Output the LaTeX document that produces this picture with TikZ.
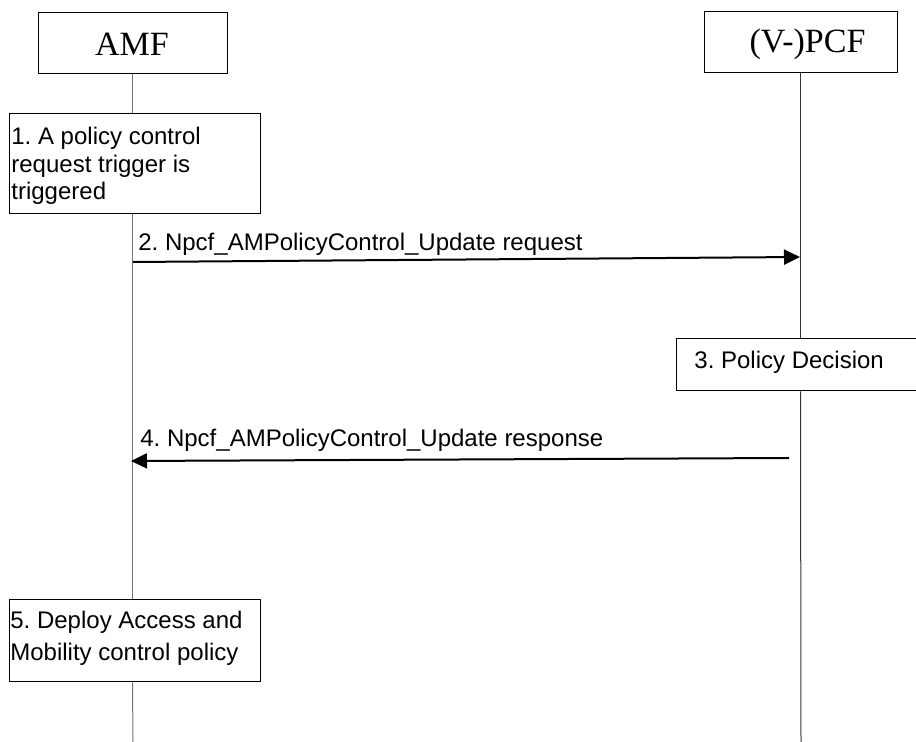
\documentclass[tikz,border=0pt]{standalone}
\usepackage{fontspec}
\setmainfont{Liberation Serif}
\setsansfont{Liberation Sans}
\usetikzlibrary{arrows.meta}
\frenchspacing

\tikzset{
   entity/.style={draw,line width=0.5pt,inner sep=0pt},
   entitytext/.style={inner sep=0pt,font=\fontsize{17}{20}\selectfont},
   stepbox/.style={draw,line width=0.5pt,inner sep=0pt},
   steptext/.style={inner sep=0pt,align=left,font=\sffamily\fontsize{12}{13.75}\selectfont},
   msgtext/.style={inner sep=0pt,font=\sffamily\fontsize{12}{14}\selectfont},
   lifeline/.style={line width=0.5pt,draw=black!55},
   msg/.style={line width=1pt,-{Triangle[length=8pt,width=7.5pt]}}
}

\begin{document}
\begin{tikzpicture}[x=0.5pt,y=-0.5pt]
   \useasboundingbox (0,0) rectangle (916,742);
   \clip (0,0) rectangle (916,742);

   \node[entity,minimum width=94.5pt,minimum height=30.5pt] (amf) at (132.5,43.5) {};
   \node[entitytext] (amftext) at (132,44) {AMF};
   \node[entity,minimum width=96.5pt,minimum height=30.5pt] (pcf) at (800.5,42.5) {};
   \node[entitytext] (pcftext) at (807.5,44) {(V-)PCF};

   \node[stepbox,minimum width=125.5pt,minimum height=50pt] (trigger) at (134.5,164) {};
   \node[steptext,anchor=north west] (triggertext) at (11,127)
      {1. A policy control\\request trigger is\\triggered};

   \node[stepbox,minimum width=122pt,minimum height=26pt] (decision) at (798,365) {};
   \node[msgtext,anchor=base west] (decisiontext) at (694,369) {3. Policy Decision};

   \node[stepbox,minimum width=125.5pt,minimum height=41pt] (deploy) at (134.5,641) {};
   \node[steptext,anchor=north west,font=\sffamily\fontsize{12}{16}\selectfont] (deploytext) at (10,611)
      {5. Deploy Access and\\Mobility control policy};

   \coordinate (amfend) at (133,742);
   \coordinate (pcfend) at (801,742);
   \draw[lifeline] (amf.south) -- (amf.south|-trigger.north);
   \draw[lifeline] (amf.south|-trigger.south) -- (amf.south|-deploy.north);
   \draw[lifeline] (amf.south|-deploy.south) -- (amfend);
   \draw[lifeline,draw=black!80] (pcf.south) -- (pcf.south|-decision.north);
   \draw[lifeline,draw=black!80] (pcf.south|-decision.south) -- (pcfend);

   \coordinate (amfreq) at (133,262);
   \coordinate (pcfreq) at (800,257);
   \coordinate (pcfrsp) at (789,458);
   \coordinate (amfrsp) at (131,461);
   \draw[msg] (amfreq) -- (pcfreq);
   \node[msgtext,anchor=base west] (reqtext) at (138,251) {2. Npcf\_AMPolicyControl\_Update request};
   \draw[msg] (pcfrsp) -- (amfrsp);
   \node[msgtext,anchor=base west] (rsptext) at (140,447) {4. Npcf\_AMPolicyControl\_Update response};

\end{tikzpicture}
\end{document}
